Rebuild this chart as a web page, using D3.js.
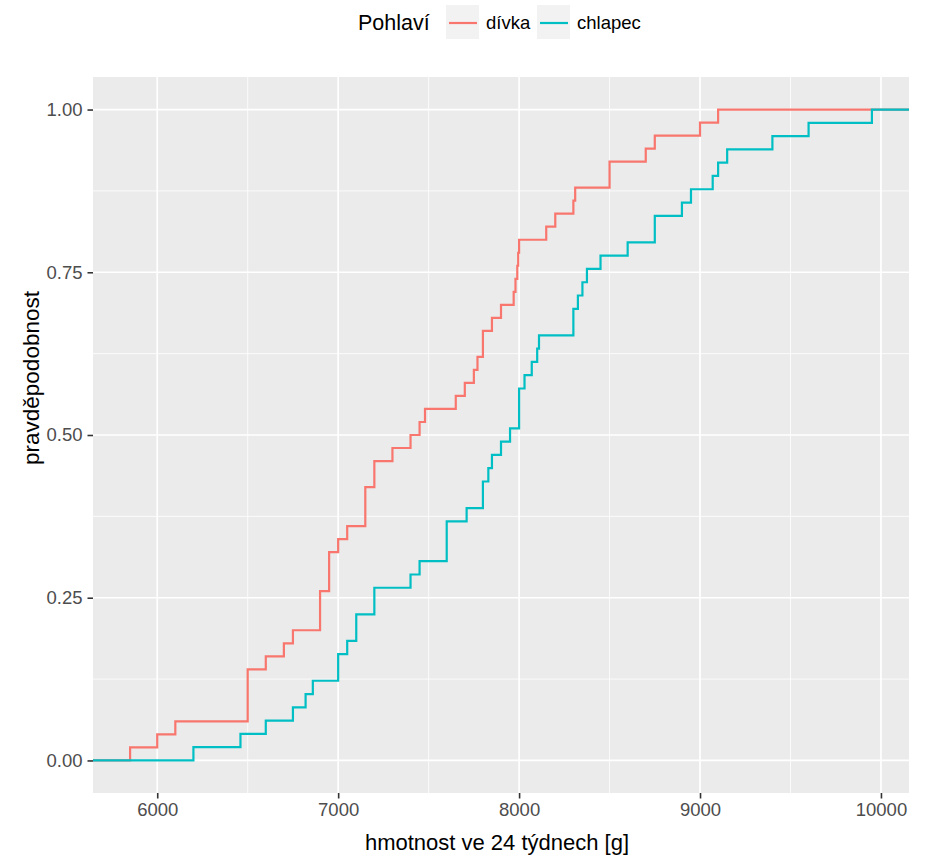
<!DOCTYPE html>
<html>
<head>
<meta charset="utf-8">
<script src="https://cdn.jsdelivr.net/npm/d3@7"></script>
<style>
  html, body { margin: 0; padding: 0; background: #ffffff; }
  svg { display: block; font-family: "Liberation Sans", Arial, Helvetica, sans-serif; }
</style>
</head>
<body>
<svg id="chart" width="930" height="859"></svg>
<script>
// Birth-cohort weights at 24 weeks (grams), one value per child
const girlsWeights = [
  5850, 6000, 6100, 6500, 6500, 6500, 6500, 6600, 6700, 6750,
  6900, 6900, 6900, 6950, 6950, 6950, 7000, 7050, 7150, 7150,
  7150, 7200, 7200, 7300, 7400, 7450, 7480, 7650, 7700, 7750,
  7770, 7800, 7800, 7850, 7900, 7970, 7980, 7990, 7995, 8000,
  8150, 8200, 8300, 8310, 8500, 8500, 8700, 8750, 9000, 9100
];
const boysWeights = [
  6200, 6460, 6600, 6750, 6820, 6860, 7000, 7000, 7050, 7100,
  7100, 7200, 7200, 7400, 7450, 7600, 7600, 7600, 7710, 7800,
  7800, 7830, 7850, 7900, 7950, 8000, 8000, 8000, 8030, 8070,
  8100, 8110, 8300, 8300, 8325, 8350, 8375, 8450, 8600, 8750,
  8750, 8900, 8950, 9070, 9100, 9150, 9400, 9600, 9950
];

const groupNames = ["dívka", "chlapec"];
const groupColors = ["#F8766D", "#00BFC4"];
const xTicks = [6000, 7000, 8000, 9000, 10000];
const xMinorTicks = [6500, 7500, 8500, 9500];
const yTicks = [0, 0.25, 0.5, 0.75, 1];
const yTickLabels = ["0.00", "0.25", "0.50", "0.75", "1.00"];
const yMinorTicks = [0.125, 0.375, 0.625, 0.875];

const legendTitle = "Pohlaví";
const xTitle = "hmotnost ve 24 týdnech [g]";
const yTitle = "pravděpodobnost";

const svg = d3.select("#chart");
const panel = { left: 93, top: 77, right: 909, bottom: 793 };

// Empirical CDF: one step per distinct weight
function ecdf(values) {
  const sorted = values.slice().sort((a, b) => a - b);
  const n = sorted.length;
  const counts = d3.rollups(sorted, v => v.length, d => d).sort((a, b) => a[0] - b[0]);
  let cum = 0;
  return counts.map(([x, c]) => { cum += c; return { x, y: cum / n }; });
}

const groups = [girlsWeights, boysWeights].map((w, i) => ({
  name: groupNames[i], color: groupColors[i], steps: ecdf(w)
}));

const allW = girlsWeights.concat(boysWeights);
const [wMin, wMax] = d3.extent(allW);
const pad = (wMax - wMin) * 0.05;
const x = d3.scaleLinear().domain([wMin - pad, wMax + pad]).range([panel.left, panel.right]);
const y = d3.scaleLinear().domain([-0.05, 1.05]).range([panel.bottom, panel.top]);

// Panel background
svg.append("rect")
  .attr("x", panel.left).attr("y", panel.top)
  .attr("width", panel.right - panel.left).attr("height", panel.bottom - panel.top)
  .attr("fill", "#ebebeb");

const grid = svg.append("g");
grid.selectAll(".xminor").data(xMinorTicks).join("line")
  .attr("x1", d => x(d)).attr("x2", d => x(d))
  .attr("y1", panel.top).attr("y2", panel.bottom)
  .attr("stroke", "#ffffff").attr("stroke-width", 0.8);
grid.selectAll(".yminor").data(yMinorTicks).join("line")
  .attr("y1", d => y(d)).attr("y2", d => y(d))
  .attr("x1", panel.left).attr("x2", panel.right)
  .attr("stroke", "#ffffff").attr("stroke-width", 0.8);
grid.selectAll(".xmajor").data(xTicks).join("line")
  .attr("x1", d => x(d)).attr("x2", d => x(d))
  .attr("y1", panel.top).attr("y2", panel.bottom)
  .attr("stroke", "#ffffff").attr("stroke-width", 1.7);
grid.selectAll(".ymajor").data(yTicks).join("line")
  .attr("y1", d => y(d)).attr("y2", d => y(d))
  .attr("x1", panel.left).attr("x2", panel.right)
  .attr("stroke", "#ffffff").attr("stroke-width", 1.7);

// Clip to panel
svg.append("clipPath").attr("id", "panelClip").append("rect")
  .attr("x", panel.left).attr("y", panel.top)
  .attr("width", panel.right - panel.left).attr("height", panel.bottom - panel.top);

const stepLine = d3.line().x(d => x(d.x)).y(d => y(d.y)).curve(d3.curveStepAfter);
const [dx0, dx1] = x.domain();

svg.append("g").attr("clip-path", "url(#panelClip)")
  .selectAll("path").data(groups).join("path")
  .attr("d", g => stepLine([{ x: dx0, y: 0 }, ...g.steps, { x: dx1, y: 1 }]))
  .attr("fill", "none")
  .attr("stroke", g => g.color)
  .attr("stroke-width", 2.2)
  .attr("stroke-linejoin", "miter");

// Axes
const xAxis = d3.axisBottom(x).tickValues(xTicks).tickFormat(d3.format("d")).tickSize(5.5).tickPadding(4);
const yAxis = d3.axisLeft(y).tickValues(yTicks).tickFormat((d, i) => yTickLabels[i]).tickSize(5.5).tickPadding(5);

const gx = svg.append("g").attr("transform", `translate(0,${panel.bottom})`).call(xAxis);
const gy = svg.append("g").attr("transform", `translate(${panel.left},0)`).call(yAxis);
[gx, gy].forEach(g => {
  g.select(".domain").remove();
  g.selectAll(".tick line").attr("stroke", "#333333").attr("stroke-width", 1.6);
  g.selectAll(".tick text").attr("fill", "#4d4d4d").attr("font-size", 18.5)
    .attr("font-family", "Liberation Sans, Arial, sans-serif");
});

// Axis titles
svg.append("text")
  .attr("x", (panel.left + panel.right) / 2 - 4).attr("y", 850)
  .attr("text-anchor", "middle").attr("font-size", 22).attr("fill", "#000")
  .text(xTitle);
svg.append("text")
  .attr("transform", `translate(39,378) rotate(-90)`)
  .attr("text-anchor", "middle").attr("font-size", 22.5).attr("fill", "#000")
  .text(yTitle);

// Legend (top)
const legend = svg.append("g");
legend.append("text").attr("x", 358).attr("y", 30)
  .attr("font-size", 21.5).attr("fill", "#000").text(legendTitle);
const keyX = [446, 537];
groups.forEach((g, i) => {
  const k = legend.append("g").attr("transform", `translate(${keyX[i]},5)`);
  k.append("rect").attr("width", 33).attr("height", 34).attr("fill", "#f2f2f2");
  k.append("line").attr("x1", 3).attr("x2", 31).attr("y1", 18).attr("y2", 18)
    .attr("stroke", g.color).attr("stroke-width", 2.2);
  k.append("text").attr("x", 40).attr("y", 24).attr("font-size", 18.5).attr("fill", "#000").text(g.name);
});
</script>
</body>
</html>
